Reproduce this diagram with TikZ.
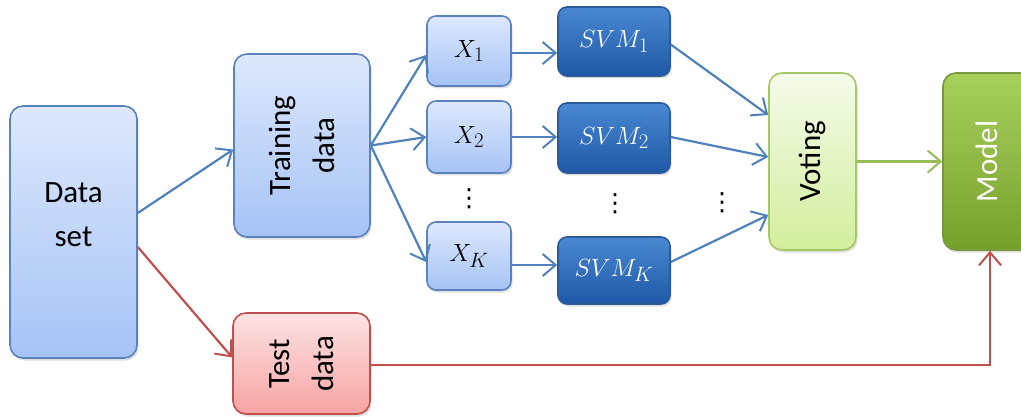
\documentclass[tikz,border=0pt]{standalone}
\usepackage{fontspec}
\setmainfont{Carlito}
\newfontfamily\dvfont{DejaVu Sans}
\usetikzlibrary{arrows.meta,shadows,calc}
\definecolor{bluebd}{HTML}{5A82BD}
\definecolor{blueln}{HTML}{4F81BD}
\definecolor{lbtop}{HTML}{DDE8FC}
\definecolor{lbbot}{HTML}{A6C3F6}
\definecolor{dbtop}{HTML}{4A88D2}
\definecolor{dbbot}{HTML}{1E58A6}
\definecolor{dbbd}{HTML}{2B5B98}
\definecolor{gvtop}{HTML}{F5FBEA}
\definecolor{gvbot}{HTML}{D2EE9C}
\definecolor{gvbd}{HTML}{A5C866}
\definecolor{gmtop}{HTML}{A8D05C}
\definecolor{gmbot}{HTML}{76A02C}
\definecolor{gmbd}{HTML}{78983E}
\definecolor{greenln}{HTML}{9BBB59}
\definecolor{rtop}{HTML}{FDE3E3}
\definecolor{rbot}{HTML}{F7A3A3}
\definecolor{redbd}{HTML}{C0504D}
\tikzset{
  box/.style={rectangle, rounded corners=13pt, line width=1.6pt, inner sep=0pt,
    drop shadow={shadow xshift=1.5pt, shadow yshift=-2.5pt, opacity=0.25}},
  lightbox/.style={box, draw=bluebd, top color=lbtop, bottom color=lbbot},
  darkbox/.style={box, rounded corners=9pt, draw=dbbd, top color=dbtop, bottom color=dbbot, text=white},
  xbox/.style={lightbox, rounded corners=9pt},
  votebox/.style={box, draw=gvbd, top color=gvtop, bottom color=gvbot},
  modelbox/.style={box, draw=gmbd, top color=gmtop, bottom color=gmbot, text=white},
  testbox/.style={box, draw=redbd, top color=rtop, bottom color=rbot},
  lbl/.style={font=\fontsize{31}{44}\selectfont, align=center, inner sep=0pt},
  mth/.style={font=\fontsize{29}{32}\selectfont},
  tip/.style={-{Straight Barb[length=13pt,width=22pt,line width=2pt]}},
  bl/.style={tip, draw=blueln, line width=2.2pt},
  gl/.style={tip, draw=greenln, line width=2.2pt},
  rl/.style={tip, draw=redbd, line width=2.2pt},
  dotsn/.style={font=\dvfont\fontsize{25}{27}\selectfont, inner sep=0pt}
}
\begin{document}
\begin{tikzpicture}[x=1pt,y=1pt]
\useasboundingbox (0,0) rectangle (1021,-417);
\node[lightbox, minimum width=127pt, minimum height=252pt] (data) at (73.5,-232) {};
\node[lbl] (datalbl) at (73.5,-215) {Data\\set};
\node[lightbox, minimum width=136pt, minimum height=183pt] (train) at (302,-145.5) {};
\node[lbl, rotate=90] (trainlbl) at (train.center) {Training\\data};
\node[testbox, minimum width=137pt, minimum height=101pt] (test) at (301.5,-363.5) {};
\node[lbl, rotate=90] (testlbl) at (302,-364) {Test\\data};

\node[xbox, minimum width=84pt, minimum height=70pt, mth] (x1) at (469,-51) {$X_1$};
\node[xbox, minimum width=84pt, minimum height=72pt, mth] (x2) at (469,-137) {$X_2$};
\node[xbox, minimum width=84pt, minimum height=68pt, mth] (xk) at (469,-256) {$X_K$};

\node[darkbox, minimum width=112pt, minimum height=69pt, mth] (s1) at (614,-41.5) {$SVM_1$};
\node[darkbox, minimum width=112pt, minimum height=70pt, mth] (s2) at (614,-138) {$SVM_2$};
\node[darkbox, minimum width=112pt, minimum height=67pt, mth] (sk) at (614,-270.5) {$SVM_K$};

\node[votebox, minimum width=87pt, minimum height=177pt] (vote) at (812.5,-161.5) {};
\node[lbl, rotate=90] (votelbl) at (vote.center) {Voting};
\node[modelbox, minimum width=100pt, minimum height=177pt] (model) at (993,-161.5) {};
\node[lbl, rotate=90, text=white] (modellbl) at (987,-161.5) {Model};

\node[dotsn] (d1) at (469,-199) {⋮};
\node[dotsn] (d2) at (615,-204) {⋮};
\node[dotsn] (d3) at (722,-203) {⋮};

\draw[bl] ([yshift=19pt]data.east) -- ([yshift=-4pt]train.west);
\draw[rl] ([yshift=-15pt]data.east) -- ([yshift=6pt]test.west);
\draw[bl] (train.east) -- ([yshift=-4pt]x1.west);
\draw[bl] (train.east) -- (x2.west);
\draw[bl] (train.east) -- ([yshift=-6pt]xk.west);
\draw[bl] ([yshift=-2pt]x1.east) -- ([yshift=-2pt]x1.east -| s1.west);
\draw[bl] (x2.east) -- (x2.east -| s2.west);
\draw[bl] ([yshift=-9pt]xk.east) -- ([yshift=-9pt]xk.east -| sk.west);
\draw[bl] ([yshift=-3pt]s1.east) -- ([yshift=46.5pt]vote.west);
\draw[bl] ([yshift=1pt]s2.east) -- ([yshift=4.5pt]vote.west);
\draw[bl] ([yshift=8.5pt]sk.east) -- ([yshift=-53.5pt]vote.west);
\draw[gl] (vote.east) -- (model.west);
\draw[rl] ([yshift=-1.5pt]test.east) -| ([xshift=-3pt]model.south);
\end{tikzpicture}
\end{document}
